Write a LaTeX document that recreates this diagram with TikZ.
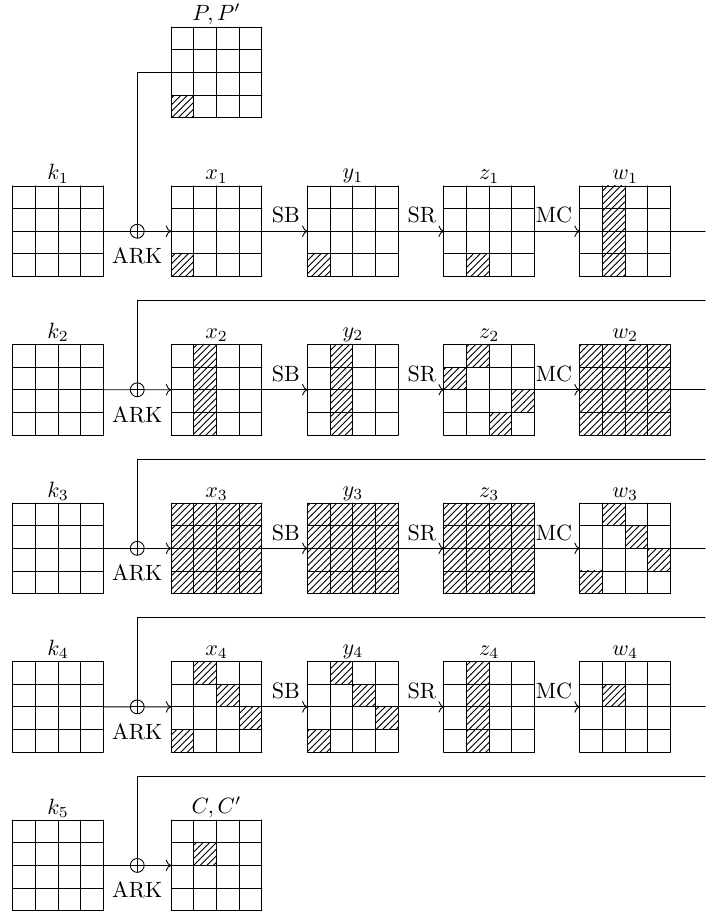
\documentclass[tikz,border=0pt]{standalone}
\usepackage{amsmath,amssymb}
\usepackage{tikz}
\usetikzlibrary{arrows.meta,calc,patterns,positioning}
\newcommand{\aescell}{0.36cm}
\tikzset{
  every picture/.append style={line cap=round,line join=round},
  aes box/.style={rectangle,minimum size=4*\aescell,inner sep=0pt,outer sep=0pt},
  aes hatch/.style={pattern=north east lines},
  aes name/.style={above,inner sep=1pt},
  aes op/.style={above left},
  aes arrow/.style={-{To}},
  aes xor/.style={circle,draw,minimum size=0.22cm,inner sep=0pt,
    path picture={\draw (path picture bounding box.north) -- (path picture bounding box.south)
      (path picture bounding box.west) -- (path picture bounding box.east);}},
  aes ark/.style={below=1pt,inner sep=3pt}
}
% 4x4 state: name, lower left x, lower left y, label, hatched cells col/row (row 1 on top)
\newcommand{\aesstate}[5]{%
  \foreach \c/\r in {#5} {\fill[aes hatch] ({#2+\c-1},{#3+4-\r}) rectangle ++(1,1);}
  \draw[shift={(#2,#3)},step=\aescell] (0,0) grid (4,4);
  \node[aes box] (#1) at ({#2+2},{#3+2}) {};
  \node[aes name] (#1-name) at (#1.north) {#4};
}
% whole state hatched
\newcommand{\aesall}[1]{\fill[aes hatch] (#1.south west) rectangle (#1.north east);}

\begin{document}
\begin{tikzpicture}[x=\aescell,y=\aescell]
\useasboundingbox (0,0) rectangle (31.13,40.31);

% plaintext
\aesstate{pt}{7.56}{35.11}{$P,P'$}{1/4}

% round 1
\aesstate{k1}{0.56}{28.1}{$k_1$}{}
\aesstate{x1}{7.56}{28.1}{$x_1$}{1/4}
\aesstate{y1}{13.58}{28.1}{$y_1$}{1/4}
\aesstate{z1}{19.6}{28.1}{$z_1$}{2/4}
\aesstate{w1}{25.6}{28.1}{$w_1$}{2/1,2/2,2/3,2/4}

% round 2
\aesstate{k2}{0.56}{21.1}{$k_2$}{}
\aesstate{x2}{7.56}{21.1}{$x_2$}{2/1,2/2,2/3,2/4}
\aesstate{y2}{13.58}{21.1}{$y_2$}{2/1,2/2,2/3,2/4}
\aesstate{z2}{19.6}{21.1}{$z_2$}{2/1,1/2,4/3,3/4}
\aesstate{w2}{25.6}{21.1}{$w_2$}{}
\aesall{w2}

% round 3
\aesstate{k3}{0.56}{14.1}{$k_3$}{}
\aesstate{x3}{7.56}{14.1}{$x_3$}{}
\aesstate{y3}{13.58}{14.1}{$y_3$}{}
\aesstate{z3}{19.6}{14.1}{$z_3$}{}
\aesall{x3} \aesall{y3} \aesall{z3}
\aesstate{w3}{25.6}{14.1}{$w_3$}{2/1,3/2,4/3,1/4}

% round 4
\aesstate{k4}{0.56}{7.1}{$k_4$}{}
\aesstate{x4}{7.56}{7.1}{$x_4$}{2/1,3/2,4/3,1/4}
\aesstate{y4}{13.58}{7.1}{$y_4$}{2/1,3/2,4/3,1/4}
\aesstate{z4}{19.6}{7.1}{$z_4$}{2/1,2/2,2/3,2/4}
\aesstate{w4}{25.6}{7.1}{$w_4$}{2/2}

% ciphertext
\aesstate{k5}{0.56}{0.1}{$k_5$}{}
\aesstate{ct}{7.56}{0.1}{$C,C'$}{2/2}

% key additions
\foreach \i in {1,...,5} {
  \node[aes xor] (ark\i) at ($(k\i.east)!0.5!(x1.west |- k\i.east)$) {};
  \node[aes ark] (ark\i-name) at (ark\i.south) {ARK};
  \draw (k\i.east) -- (ark\i);
}
\draw[aes arrow] (ark1) -- (x1.west);
\draw[aes arrow] (ark2) -- (x2.west);
\draw[aes arrow] (ark3) -- (x3.west);
\draw[aes arrow] (ark4) -- (x4.west);
\draw[aes arrow] (ark5) -- (ct.west);

% round functions
\foreach \i in {1,...,4} {
  \draw[aes arrow] (x\i.east) -- node[aes op,pos=1] {SB} (y\i.west);
  \draw[aes arrow] (y\i.east) -- node[aes op,pos=1] {SR} (z\i.west);
  \draw[aes arrow] (z\i.east) -- node[aes op,pos=1] {MC} (w\i.west);
  \coordinate (out\i) at (31.13,{37.1-7*\i});
  \draw (w\i.east) -- (out\i);
}

% state feeds
\draw (pt.west) -| (ark1);
\foreach \i in {2,...,5} {
  \coordinate (in\i) at (31.13,{41.03-7*\i});
  \draw (in\i) -| (ark\i);
}
\end{tikzpicture}
\end{document}
